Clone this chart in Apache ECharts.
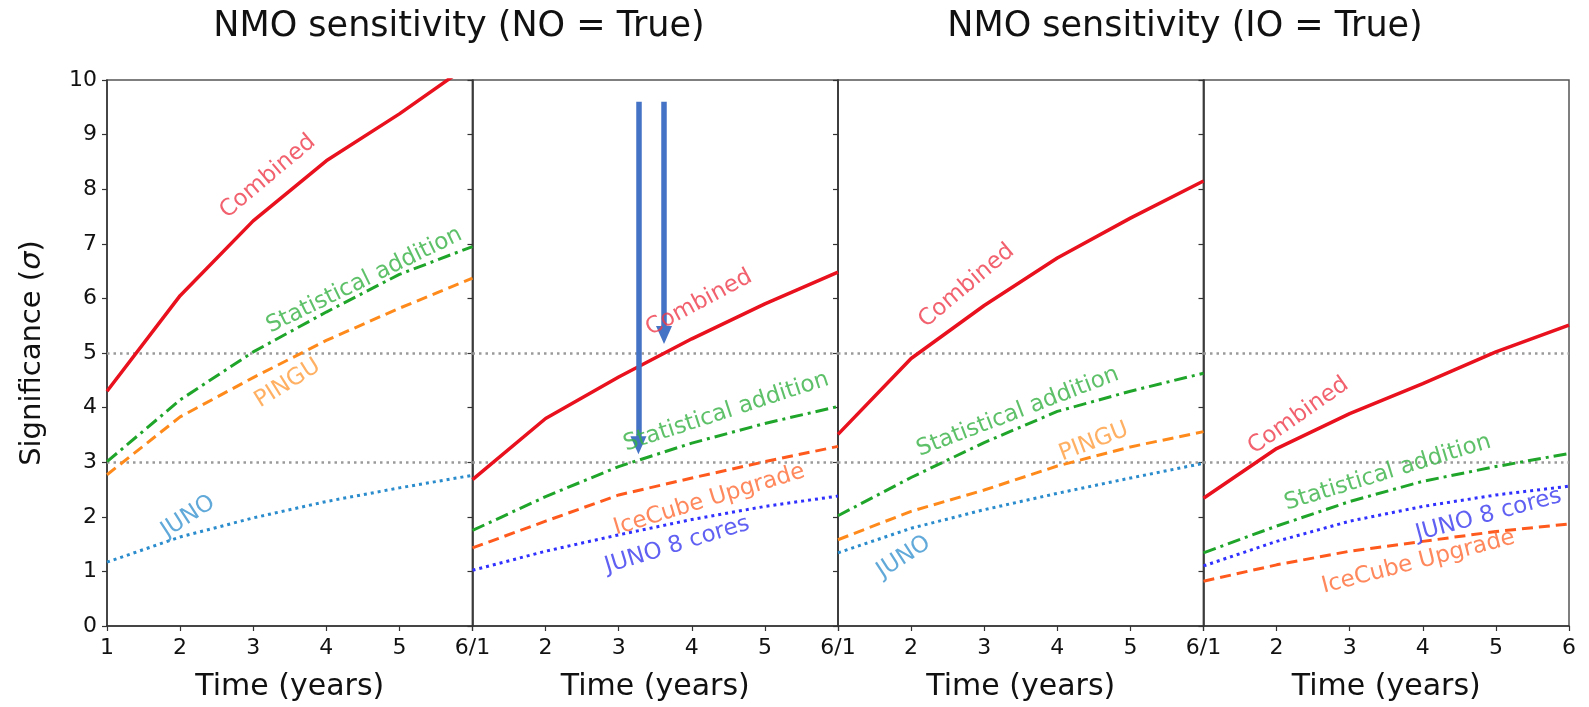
<!DOCTYPE html>
<html>
<head>
<meta charset="utf-8">
<script src="https://cdn.jsdelivr.net/npm/echarts@6/dist/echarts.min.js"></script>
<style>
  html, body { margin: 0; padding: 0; background: #fff; }
  #chart { width: 1589px; height: 707px; }
</style>
</head>
<body>
<div id="chart"></div>
<script>
// Years of data taking
const years = [1, 2, 3, 4, 5, 6];

// Normal ordering: PINGU + JUNO
const noCombinedPingu = [4.30, 6.05, 7.42, 8.52, 9.38, 10.32];
const noStatPingu     = [3.01, 4.14, 5.02, 5.75, 6.44, 6.95];
const noPingu         = [2.77, 3.83, 4.55, 5.23, 5.82, 6.37];
const noJuno          = [1.17, 1.63, 1.98, 2.28, 2.53, 2.76];

// Normal ordering: IceCube Upgrade + JUNO 8 cores
const noCombinedIceCube = [2.68, 3.80, 4.56, 5.26, 5.90, 6.48];
const noStatIceCube     = [1.75, 2.37, 2.92, 3.35, 3.71, 4.02];
const noIceCube         = [1.43, 1.92, 2.40, 2.71, 3.01, 3.29];
const noJuno8           = [1.02, 1.37, 1.67, 1.95, 2.19, 2.38];

// Inverted ordering: PINGU + JUNO
const ioCombinedPingu = [3.51, 4.90, 5.87, 6.74, 7.47, 8.15];
const ioStatPingu     = [2.02, 2.72, 3.36, 3.93, 4.30, 4.63];
const ioPingu         = [1.58, 2.10, 2.49, 2.93, 3.28, 3.56];
const ioJuno          = [1.34, 1.79, 2.13, 2.43, 2.71, 2.98];

// Inverted ordering: IceCube Upgrade + JUNO 8 cores
const ioCombinedIceCube = [2.34, 3.25, 3.89, 4.44, 5.02, 5.51];
const ioStatIceCube     = [1.34, 1.83, 2.28, 2.65, 2.92, 3.16];
const ioJuno8           = [1.10, 1.55, 1.92, 2.19, 2.40, 2.56];
const ioIceCube         = [0.82, 1.12, 1.37, 1.55, 1.73, 1.87];

// Significance thresholds
const thresholds = [3, 5];

// Text
const titles = ['NMO sensitivity (NO = True)', 'NMO sensitivity (IO = True)'];
const xName = 'Time (years)';
const yTicks = [0, 1, 2, 3, 4, 5, 6, 7, 8, 9, 10];

// Styles
const FONT = "'DejaVu Sans', 'Noto Sans', sans-serif";
const styles = {
  combined: { color: '#e8111d', width: 3.5, type: 'solid', text: '#ee3a4a' },
  stat:     { color: '#1fa52a', width: 3,   type: [13, 5, 3, 5], text: '#36b144' },
  pingu:    { color: '#ff8a1c', width: 3,   type: [11, 6], text: '#ff9c3c' },
  juno:     { color: '#2a8ccc', width: 3,   type: [3, 4], text: '#3a93cf' },
  icecube:  { color: '#ff5a1e', width: 3,   type: [11, 6], text: '#ff6a35' },
  juno8:    { color: '#3030ff', width: 3,   type: [3, 4], text: '#3838f0' }
};

// Panels: series per panel
const panels = [
  [['combined', noCombinedPingu], ['stat', noStatPingu], ['pingu', noPingu], ['juno', noJuno]],
  [['combined', noCombinedIceCube], ['stat', noStatIceCube], ['icecube', noIceCube], ['juno8', noJuno8]],
  [['combined', ioCombinedPingu], ['stat', ioStatPingu], ['pingu', ioPingu], ['juno', ioJuno]],
  [['combined', ioCombinedIceCube], ['stat', ioStatIceCube], ['juno8', ioJuno8], ['icecube', ioIceCube]]
];

// In-line curve labels: [panel, text, style key, x, y, rotation]
const curveLabels = [
  [0, 'Combined', 'combined', 3.2, 8.23, 40],
  [0, 'Statistical addition', 'stat', 4.52, 6.33, 26],
  [0, 'PINGU', 'pingu', 3.47, 4.44, 32],
  [0, 'JUNO', 'juno', 2.11, 2.0, 33],
  [1, 'Combined', 'combined', 4.1, 5.92, 28],
  [1, 'Statistical addition', 'stat', 4.47, 3.92, 18],
  [1, 'IceCube Upgrade', 'icecube', 4.24, 2.31, 17],
  [1, 'JUNO 8 cores', 'juno8', 3.8, 1.48, 17],
  [2, 'Combined', 'combined', 2.76, 6.23, 40],
  [2, 'Statistical addition', 'stat', 3.46, 3.92, 21],
  [2, 'PINGU', 'pingu', 4.5, 3.37, 21],
  [2, 'JUNO', 'juno', 1.9, 1.26, 33],
  [3, 'Combined', 'combined', 2.3, 3.85, 35],
  [3, 'Statistical addition', 'stat', 3.52, 2.81, 17],
  [3, 'JUNO 8 cores', 'juno8', 4.9, 2.03, 15],
  [3, 'IceCube Upgrade', 'icecube', 3.94, 1.17, 14.5]
];

// Annotation arrows in the second panel: [x, yFrom, yTo (shaft end, arrow head beyond)]
const arrows = [
  [3.27, 9.6, 3.31],
  [3.62, 9.6, 5.33]
];

const gridW = 365.5, gridTop = 80, gridH = 548;
const gridLeft = [0, 1, 2, 3].map(i => 107 + i * gridW);

const option = {
  animation: false,
  backgroundColor: '#fff',
  textStyle: { fontFamily: FONT },
  title: [
    { text: titles[0], left: 454, top: 4, textAlign: 'center',
      textStyle: { fontFamily: FONT, fontSize: 35, fontWeight: 'normal', color: '#111' } },
    { text: titles[1], left: 1180, top: 4, textAlign: 'center',
      textStyle: { fontFamily: FONT, fontSize: 35, fontWeight: 'normal', color: '#111' } }
  ],
  grid: gridLeft.map(l => ({
    left: l, top: gridTop, width: gridW, height: gridH,
    show: true, borderColor: '#555', borderWidth: 1.5, backgroundColor: 'transparent'
  })),
  xAxis: gridLeft.map((l, i) => ({
    type: 'value', gridIndex: i, min: 1, max: 6, interval: 1,
    name: xName, nameLocation: 'middle', nameGap: 46,
    nameTextStyle: { fontFamily: FONT, fontSize: 30, color: '#111' },
    axisLine: { show: true, onZero: false, lineStyle: { color: '#333', width: 1.5 } },
    axisTick: { show: true, length: 5, lineStyle: { color: '#333', width: 1.2 } },
    splitLine: { show: false },
    axisLabel: {
      fontFamily: FONT, fontSize: 22, color: '#111', margin: 11,
      showMinLabel: true, showMaxLabel: true,
      formatter: v => {
        if (v === 1 && i > 0) return '';
        if (v === 6 && i < 3) return '6/1';
        return String(v);
      }
    }
  })),
  yAxis: gridLeft.map((l, i) => ({
    type: 'value', gridIndex: i, min: yTicks[0], max: yTicks[yTicks.length - 1], interval: 1,
    name: i === 0 ? '{a|Significance (}{b|σ}{a|)}' : '',
    nameLocation: 'middle', nameGap: 60,
    nameTextStyle: {
      fontFamily: FONT, fontSize: 29, color: '#111',
      rich: {
        a: { fontFamily: FONT, fontSize: 29, color: '#111' },
        b: { fontFamily: FONT, fontSize: 29, color: '#111', fontStyle: 'italic' }
      }
    },
    axisLine: { show: true, onZero: false, lineStyle: { color: '#333', width: 1.5 } },
    axisTick: { show: true, length: 5, lineStyle: { color: '#333', width: 1.2 } },
    splitLine: { show: false },
    axisLabel: { show: i === 0, fontFamily: FONT, fontSize: 22, color: '#111', margin: 10 }
  })),
  series: []
};

panels.forEach((list, p) => {
  list.forEach(([key, vals], k) => {
    const s = styles[key];
    const ser = {
      type: 'line', xAxisIndex: p, yAxisIndex: p,
      data: years.map((y, j) => [y, vals[j]]),
      showSymbol: false, symbol: 'none', clip: true, z: 3,
      lineStyle: { color: s.color, width: s.width, type: s.type }
    };
    if (k === 0) {
      ser.markLine = {
        silent: true, symbol: 'none', label: { show: false }, z: 1,
        lineStyle: { color: '#9a9a9a', width: 2.5, type: [2.5, 4] },
        data: thresholds.map(t => ({ yAxis: t }))
      };
    }
    option.series.push(ser);
  });
  // Curve labels for this panel
  option.series.push({
    type: 'scatter', xAxisIndex: p, yAxisIndex: p, symbolSize: 0, z: 5, silent: true,
    data: curveLabels.filter(c => c[0] === p).map(c => ({
      value: [c[3], c[4]],
      label: {
        show: true, position: 'inside', formatter: c[1], rotate: c[5],
        fontFamily: FONT, fontSize: 23, color: styles[c[2]].text
      }
    }))
  });
});

// Arrows drawn over the second panel
option.series.push({
  type: 'line', xAxisIndex: 1, yAxisIndex: 1, data: [], z: 6,
  markLine: {
    silent: true, symbol: ['none', 'triangle'], symbolSize: [16, 18],
    label: { show: false },
    lineStyle: { color: '#4472c4', width: 5.5, type: 'solid' },
    data: arrows.map(a => [{ coord: [a[0], a[1]] }, { coord: [a[0], a[2]] }])
  }
});

const chart = echarts.init(document.getElementById('chart'), null, { renderer: 'canvas' });
chart.setOption(option);
</script>
</body>
</html>
